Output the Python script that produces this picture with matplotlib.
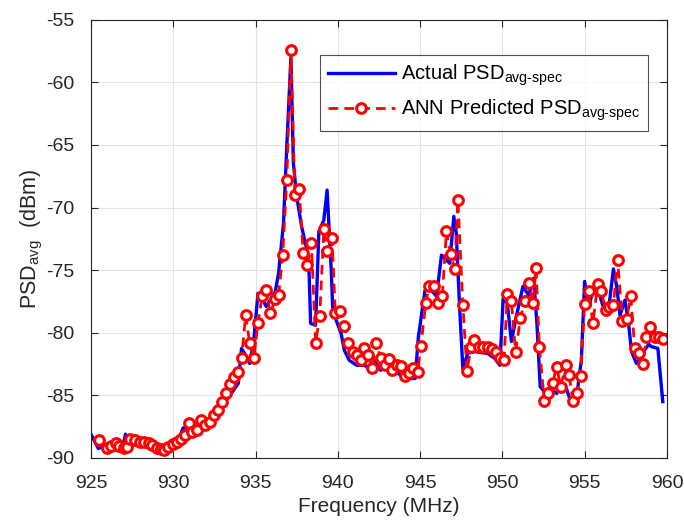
import matplotlib
matplotlib.use('Agg')
import matplotlib.pyplot as plt

plt.rcParams['font.family'] = ['Liberation Sans', 'DejaVu Sans']
plt.rcParams['mathtext.fontset'] = 'custom'
plt.rcParams['mathtext.rm'] = 'Liberation Sans'
plt.rcParams['mathtext.it'] = 'Liberation Sans'
plt.rcParams['axes.unicode_minus'] = False

# Actual PSD (blue line vertices)
blue_f = [925.0, 925.45, 925.8, 926.2, 926.6, 926.9, 927.1, 927.3, 927.6, 928.0,
          928.5, 929.0, 929.5, 929.8, 930.1, 930.4, 930.6, 931.0, 931.5, 932.0,
          932.35, 932.9, 933.5, 933.95, 934.15, 934.4, 934.65, 934.9, 935.15, 935.4,
          935.65, 936.2, 936.4, 936.7, 936.9, 937.15, 937.3, 937.5, 937.8, 938.1,
          938.25, 938.35, 938.65, 938.85, 939.15, 939.35, 939.6, 939.7, 940.2, 940.4,
          940.7, 941.15, 941.65, 942.0, 942.25, 942.6, 943.0, 943.45, 944.05, 944.7,
          944.9, 945.3, 945.6, 946.0, 946.3, 946.8, 947.05, 947.2, 947.4, 947.6,
          947.9, 948.3, 949.1, 949.55, 949.85, 950.05, 950.3, 950.55, 950.85, 951.25,
          951.6, 951.9, 952.1, 952.3, 952.55, 952.9, 953.3, 953.6, 953.85, 954.1,
          954.5, 954.8, 955.0, 955.25, 955.5, 955.7, 956.1, 956.5, 956.75, 956.95,
          957.15, 957.45, 957.65, 957.85, 958.15, 958.45, 958.65, 958.9, 959.05, 959.45,
          959.75]
blue_p = [-88.1, -89.25, -89.0, -89.1, -89.0, -89.3, -88.1, -88.6, -88.7, -88.8,
          -89.0, -89.3, -89.5, -89.2, -88.8, -88.3, -87.6, -87.6, -87.5, -87.3,
          -86.85, -85.9, -84.9, -84.05, -81.25, -81.8, -82.45, -80.5, -76.85, -77.3,
          -77.9, -76.7, -75.25, -71.25, -65.1, -58.05, -66.45, -69.1, -71.5, -73.25,
          -75.0, -79.25, -79.4, -71.9, -71.0, -68.6, -75.0, -78.3, -80.05, -81.4,
          -82.2, -82.6, -82.6, -83.0, -82.3, -83.0, -82.7, -83.0, -83.65, -83.65,
          -80.3, -76.6, -76.45, -77.1, -73.8, -74.45, -70.7, -72.05, -77.9, -82.85,
          -81.65, -81.5, -81.65, -82.05, -82.6, -77.25, -77.65, -80.7, -78.7, -76.3,
          -77.0, -75.65, -79.25, -84.3, -84.7, -84.45, -84.85, -84.05, -84.3, -85.25,
          -85.25, -82.2, -75.9, -78.0, -76.6, -76.05, -77.8, -77.65, -74.9, -76.3,
          -78.6, -77.4, -79.0, -81.5, -82.45, -81.9, -81.4, -80.9, -81.1, -81.25,
          -85.5]

# ANN predicted PSD (red markers)
red_f = [925.5, 926.0, 926.2, 926.5, 926.7, 927.0, 927.2, 927.4, 927.7, 928.0,
         928.2, 928.5, 928.7, 929.0, 929.25, 929.45, 929.7, 930.0, 930.25, 930.5,
         930.7, 930.95, 931.15, 931.45, 931.7, 931.95, 932.25, 932.5, 932.7, 932.95,
         933.2, 933.45, 933.7, 933.95, 934.15, 934.4, 934.65, 934.9, 935.15, 935.4,
         935.65, 935.9, 936.2, 936.4, 936.65, 936.9, 937.15, 937.4, 937.65, 937.9,
         938.15, 938.4, 938.65, 938.9, 939.15, 939.35, 939.65, 939.85, 940.15, 940.4,
         940.6, 940.9, 941.15, 941.4, 941.6, 941.85, 942.1, 942.35, 942.6, 942.85,
         943.1, 943.3, 943.6, 943.85, 944.1, 944.35, 944.6, 944.85, 945.05, 945.35,
         945.55, 945.85, 946.1, 946.35, 946.6, 946.85, 947.1, 947.3, 947.6, 947.85,
         948.1, 948.3, 948.6, 948.8, 949.1, 949.35, 949.6, 949.85, 950.1, 950.3,
         950.55, 950.8, 951.1, 951.35, 951.6, 951.85, 952.05, 952.25, 952.55, 952.8,
         953.05, 953.3, 953.55, 953.85, 954.05, 954.3, 954.55, 954.75, 955.0, 955.25,
         955.5, 955.8, 956.0, 956.3, 956.5, 956.75, 957.0, 957.3, 957.55, 957.8,
         958.05, 958.3, 958.55, 958.75, 959.0, 959.3, 959.55, 959.75]
red_p = [-88.6, -89.2, -89.05, -88.8, -89.05, -89.2, -89.15, -88.5, -88.6, -88.7,
         -88.7, -88.8, -89.0, -89.2, -89.3, -89.35, -89.15, -88.9, -88.7, -88.5,
         -88.2, -87.2, -87.9, -87.8, -87.0, -87.4, -87.1, -86.6, -86.2, -85.5,
         -84.85, -84.1, -83.5, -83.1, -82.05, -78.6, -80.85, -82.05, -79.2, -77.1,
         -76.6, -78.45, -77.3, -77.0, -73.8, -67.8, -57.4, -69.0, -68.55, -73.65,
         -74.6, -72.85, -80.8, -78.7, -71.75, -73.5, -72.45, -78.45, -78.3, -79.45,
         -80.8, -81.5, -81.8, -82.2, -81.25, -81.8, -82.85, -80.8, -82.05, -82.6,
         -82.1, -83.0, -82.6, -82.65, -83.45, -83.2, -82.8, -83.1, -81.05, -77.6,
         -76.3, -76.3, -77.6, -77.1, -71.9, -73.7, -74.9, -69.4, -77.8, -83.05,
         -81.1, -80.6, -81.1, -81.1, -81.1, -81.3, -81.5, -82.05, -82.2, -76.9,
         -77.5, -81.5, -78.85, -77.5, -76.0, -77.65, -74.85, -81.15, -85.45, -84.85,
         -84.05, -82.75, -84.3, -82.6, -83.4, -85.45, -84.85, -83.45, -77.7, -76.7,
         -79.25, -76.1, -76.7, -78.2, -77.95, -77.8, -74.15, -79.05, -78.9, -77.1,
         -81.25, -81.6, -82.5, -80.35, -79.55, -80.35, -80.3, -80.5]

fig = plt.figure(figsize=(6.84, 5.21), dpi=100)
ax = fig.add_axes([0.133, 0.121, 0.842, 0.841])

ax.plot(blue_f, blue_p, color='#0000ff', lw=2.4,
        label=r'Actual PSD$_{\text{avg-spec}}$')
ax.plot(red_f, red_p, color='#ff0000', lw=2.0, linestyle=(0, (3.5, 2.2)),
        marker='o', markersize=7, markerfacecolor='white',
        markeredgecolor='#ff0000', markeredgewidth=2.2,
        label=r'ANN Predicted PSD$_{\text{avg-spec}}$')

ax.set_xlim(925, 960)
ax.set_ylim(-90, -55)
ax.set_xticks(range(925, 961, 5))
ax.set_yticks(range(-90, -54, 5))
ax.grid(True, color='#e3e3e3', lw=0.8)
ax.set_axisbelow(True)

for s in ax.spines.values():
    s.set_color('#262626')
    s.set_linewidth(0.8)
ax.tick_params(direction='in', length=5, width=0.8, colors='#262626',
               labelsize=14, top=True, right=True, labelcolor='#262626')
ax.tick_params(axis='x', pad=12)
ax.tick_params(axis='y', pad=12)

ax.set_xlabel('Frequency (MHz)', fontsize=15, color='#262626', labelpad=4)
ax.set_ylabel(r'PSD$_{\text{avg}}$  (dBm)', fontsize=15.5, color='#262626', labelpad=1)

leg = ax.legend(loc='upper right', bbox_to_anchor=(0.967, 0.92), fontsize=14.5,
                frameon=True, fancybox=False, handlelength=3.3, borderpad=0.4,
                labelspacing=0.45, handletextpad=0.3, borderaxespad=0)
leg.get_frame().set_edgecolor('#262626')
leg.get_frame().set_linewidth(0.8)

fig.savefig('out.png', dpi=100)
